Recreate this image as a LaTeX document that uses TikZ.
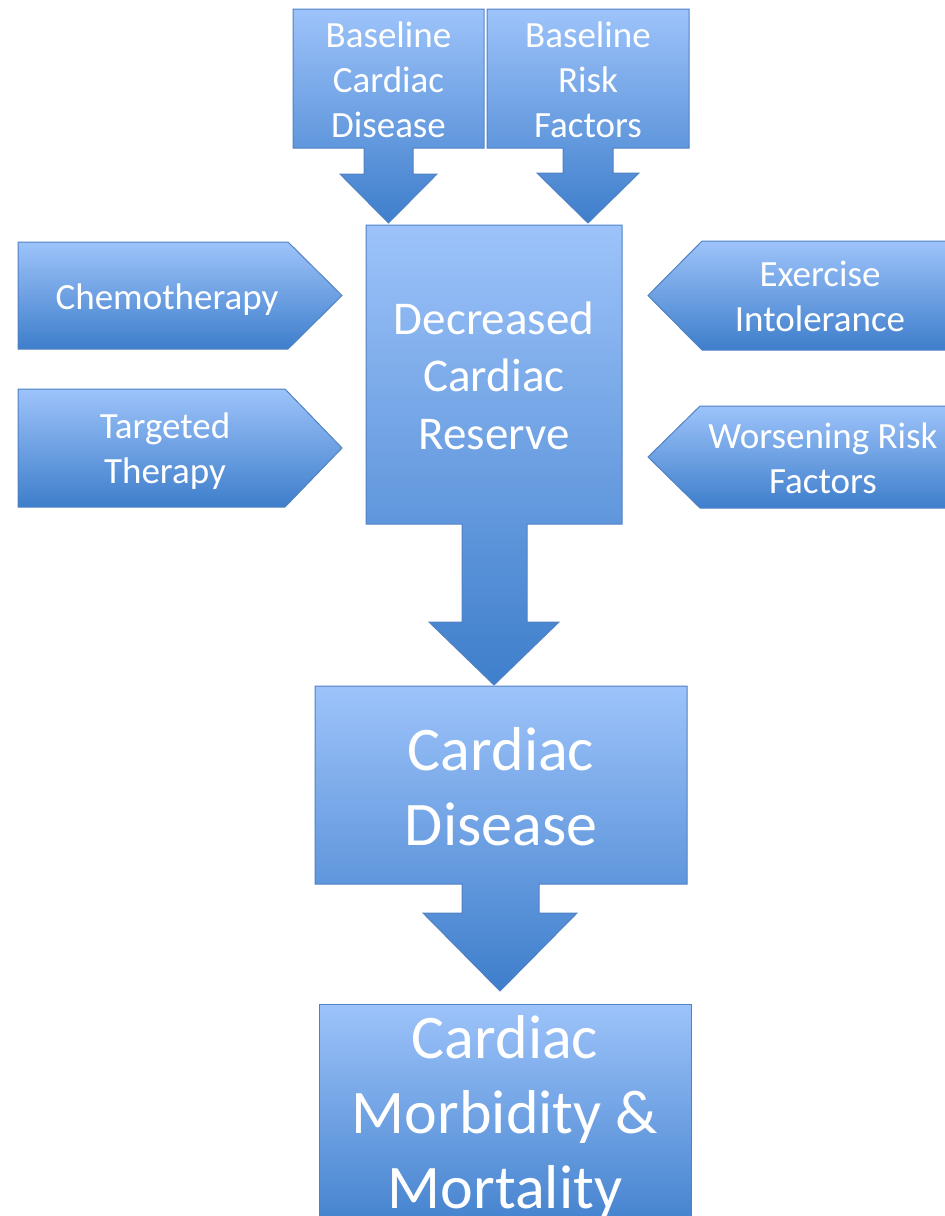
\documentclass[tikz,border=0pt]{standalone}
\usepackage{fontspec}
\setmainfont{Carlito}
\definecolor{ctop}{RGB}{157,195,250}
\definecolor{cbot}{RGB}{62,126,203}
\definecolor{cline}{RGB}{80,130,195}
\tikzset{
  shp/.style={draw=cline, line width=1pt, top color=ctop, bottom color=cbot, line join=miter},
  lbl/.style={text=white, align=center, inner sep=0pt},
  fs/.style={font=\fontsize{37}{45}\selectfont},
  fm/.style={font=\fontsize{47}{57.5}\selectfont},
  fl/.style={font=\fontsize{62}{75}\selectfont},
}
\begin{document}
\begin{tikzpicture}[x=1pt,y=-1pt]
\useasboundingbox (0,0) rectangle (945,1216);
\clip (0,0) rectangle (945,1216);
% callout shapes
\path[shp] (293,9) -- (484,9) -- (484,148) -- (413,148) -- (413,174) -- (437,174) -- (388.5,223) -- (340,174) -- (364,174) -- (364,148) -- (293,148) -- cycle;
\path[shp] (487,9) -- (689,9) -- (689,148) -- (613,148) -- (613,173) -- (639,173) -- (588,223) -- (537,173) -- (563,173) -- (563,148) -- (487,148) -- cycle;
\path[shp] (366,225) -- (622,225) -- (622,524) -- (527,524) -- (527,622) -- (559,622) -- (494,685) -- (429,622) -- (462,622) -- (462,524) -- (366,524) -- cycle;
\path[shp] (315,686) -- (687,686) -- (687,884) -- (539,884) -- (539,913) -- (577,913) -- (500,991) -- (423,913) -- (462,913) -- (462,884) -- (315,884) -- cycle;
\path[shp] (319,1004) rectangle (691,1240);
% pentagon arrows
\path[shp] (18,242) -- (288,242) -- (342,295.5) -- (288,349) -- (18,349) -- cycle;
\path[shp] (18,389) -- (285,389) -- (342,448) -- (285,507) -- (18,507) -- cycle;
\path[shp] (955,241) -- (702,241) -- (648,295.5) -- (702,350) -- (955,350) -- cycle;
\path[shp] (955,406) -- (700,406) -- (648,457) -- (700,508) -- (955,508) -- cycle;
% labels
\node[lbl,fs] (bcd) at (388.5,80) {Baseline\\Cardiac\\Disease};
\node[lbl,fs] (brf) at (588,80) {Baseline\\Risk\\Factors};
\node[lbl,fm] (dcr) at (494,375.5) {Decreased\\Cardiac\\Reserve};
\node[lbl,fs] (chemo) at (167,299.5) {Chemotherapy};
\node[lbl,fs] (tt) at (165,451) {Targeted\\Therapy};
\node[lbl,fs] (ei) at (820,296) {Exercise\\Intolerance};
\node[lbl,fs] (wrf) at (823,458) {Worsening Risk\\Factors};
\node[lbl,fl] (cd) at (501,787) {Cardiac\\Disease};
\node[lbl,fl] (cmm) at (505,1116.5) {Cardiac\\Morbidity \&\\Mortality};
\end{tikzpicture}
\end{document}
